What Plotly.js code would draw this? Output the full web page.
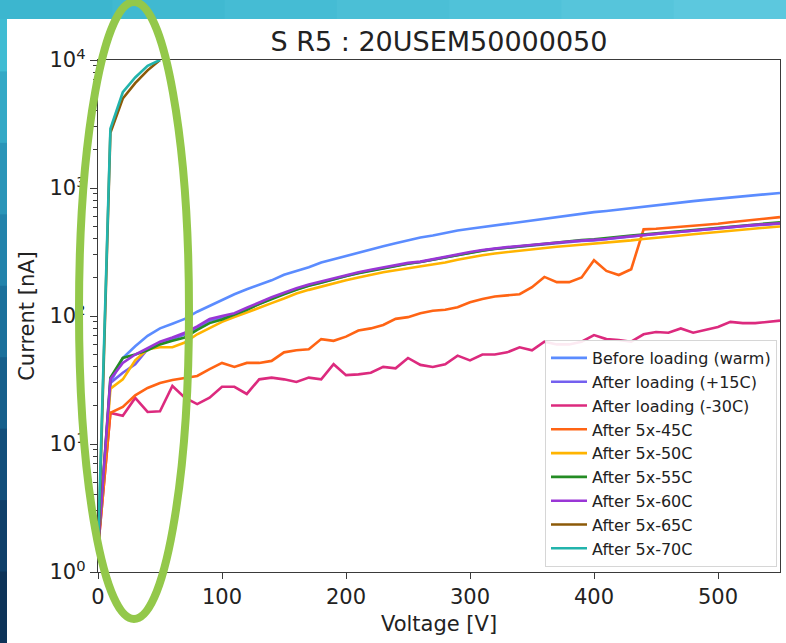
<!DOCTYPE html>
<html><head><meta charset="utf-8">
<script src="https://cdn.plot.ly/plotly-3.0.1.min.js"></script>
<style>html,body{margin:0;padding:0;background:#fff;}#chart{width:786px;height:643px;}</style>
</head><body><div id="chart"></div>
<script>
const voltage = [0,10,20,30,40,50,60,70,80,90,100,110,120,130,140,150,160,170,180,190,200,210,220,230,240,250,260,270,280,290,300,310,320,330,340,350,360,370,380,390,400,410,420,430,440,450,460,470,480,490,500,510,520,530,540,550];
const beforeWarm = [1.5,30,47,58,70,80,87,95,108,120,135,148,162,175,190,210,225,240,262,278,295,315,330,350,370,392,410,425,445,466,480,495,510,525,542,560,578,595,612,635,648,662,680,700,718,735,752,770,790,808,825,845,862,880,900,915];
const afterP15 = [1.5,30,36,42,55,61,66,72,81,92,97,103,113,125,137,149,162,173,183,195,205,217,227,237,247,257,264,275,287,302,313,325,335,342,349,357,365,372,379,385,389,397,407,417,427,437,445,452,462,472,482,492,502,512,519,527];
const afterM30 = [1.5,17.5,16.6,22.9,17.8,18,28.4,23,20.5,23,28,28,24.6,32,33,32,30.5,33,32,42,34.5,35,36,40,39,47,41.5,40,42,49,45,50,50,52,57,54,63,60,60,63,71,66,65,63,72,75,74,80,74,78,82,90,88,88,90,92];
const after45 = [1.5,17.5,19.5,24,27.4,30,31.6,33,34,38.5,43,40,43,43,44.6,52,54,55,66,64,69,77,80,85,95,98,105,110,112,117,128,136,142,145,148,168,202,184,184,200,273,225,209,232,475,480,488,495,503,512,525,540,552,565,578,592];
const after50 = [1.5,27,32,45,55,57,57,62,72,80,90,98,107,116,126,137,150,160,170,180,190,200,210,220,228,236,243,250,262,275,287,298,308,316,324,332,340,348,354,360,366,372,380,390,400,410,418,426,435,445,455,465,475,485,492,500];
const after55 = [1.5,33,47,50,54,60,64,68,78,88,94,102,112,124,136,148,160,172,182,194,205,216,226,236,246,256,264,275,288,300,312,324,334,342,350,360,368,376,384,392,398,405,415,425,434,443,452,460,470,480,490,500,510,520,530,540];
const after60 = [1.5,32,43,50,56,63,68,74,83,95,100,105,116,128,140,152,165,176,186,198,208,220,230,240,250,260,266,278,290,305,316,328,338,345,352,360,368,375,382,388,392,400,410,420,430,440,448,455,465,475,485,495,505,515,522,530];
const voltage65 = [0,10,20,30,40,50];
const after65 = [1.2,2700,5000,6600,8300,10000];
const voltage70 = [0,10,20,30,40,50];
const after70 = [1.5,2900,5600,7300,9000,10000];

const names = ['Before loading (warm)','After loading (+15C)','After loading (-30C)','After 5x-45C','After 5x-50C','After 5x-55C','After 5x-60C','After 5x-65C','After 5x-70C'];
const colors = ['#5b8cff','#7460ef','#dc2a7e','#ff6414','#ffb400','#248c24','#9a36d6','#8c5a08','#22b4ac'];
const xs = [voltage,voltage,voltage,voltage,voltage,voltage,voltage,voltage65,voltage70];
const ys = [beforeWarm,afterP15,afterM30,after45,after50,after55,after60,after65,after70];

const traces = names.map((n,i)=>({
  type:'scatter', mode:'lines', name:n, x:xs[i], y:ys[i],
  line:{color:colors[i], width:2.6}, legendgroup:'g'+i
}));

const PX = p => (p-98)/682;
const PY = p => (572-p)/512;
const shapes = [];
const leftCols = ['#3fbcd3','#34a9c6','#2a95b8','#2283ab','#1b709b','#165f8b','#124e7a','#0f3f69','#0d3358'];
const segH = 643/leftCols.length;
leftCols.forEach((c,i)=>{
  shapes.push({type:'rect',xref:'paper',yref:'paper',x0:PX(0),x1:PX(7),y0:PY(i*segH),y1:PY((i+1)*segH+1),fillcolor:c,line:{width:0},layer:'below'});
});
const topCols = ['#3cb6cf','#40b9d1','#45bcd4','#4bbfd6','#50c2d9','#56c5db','#5cc8de'];
const segW = 786/topCols.length;
topCols.forEach((c,i)=>{
  shapes.push({type:'rect',xref:'paper',yref:'paper',x0:PX(i*segW),x1:PX((i+1)*segW+1),y0:PY(0),y1:PY(19),fillcolor:c,line:{width:0},layer:'below'});
});
shapes.push({type:'circle',xref:'paper',yref:'paper',x0:PX(79),x1:PX(189),y0:PY(619),y1:PY(2),line:{color:'#93c84a',width:8},layer:'above'});

const minorVals = [];
[1,10,100,1000].forEach(b=>{for(let k=2;k<=9;k++) minorVals.push(b*k);});

const layout = {
  width:786, height:643,
  margin:{l:98, r:6, t:60, b:71},
  paper_bgcolor:'#ffffff', plot_bgcolor:'#ffffff',
  font:{family:'DejaVu Sans, sans-serif', color:'#222'},
  title:{text:'S R5 : 20USEM50000050', font:{size:27, color:'#222'}, x:0.5, xref:'paper', xanchor:'center', y:1-42/643, yanchor:'middle'},
  xaxis:{range:[0,550], showgrid:false, zeroline:false, showline:true, mirror:true, linecolor:'#3a3a3a', linewidth:1.2,
    ticks:'outside', ticklen:6, tickcolor:'#3a3a3a', tickvals:[0,100,200,300,400,500],
    tickfont:{size:21, color:'#222'},
    title:{text:'Voltage [V]', font:{size:21, color:'#222'}, standoff:7}},
  yaxis:{type:'log', range:[0,4], showgrid:false, zeroline:false, showline:true, mirror:true, linecolor:'#3a3a3a', linewidth:1.2,
    ticks:'outside', ticklen:7, tickcolor:'#3a3a3a',
    tickvals:[1,10,100,1000,10000], ticktext:['10<sup>0</sup>','10<sup>1</sup>','10<sup>2</sup>','10<sup>3</sup>','10<sup>4</sup>'],
    tickfont:{size:21, color:'#222'},
    minor:{tickvals:minorVals, ticks:'outside', ticklen:4, tickcolor:'#3a3a3a', showgrid:false},
    title:{text:'Current [nA]', font:{size:21, color:'#222'}, standoff:9}},
  legend:{x:PX(777), xanchor:'right', y:PY(567), yanchor:'bottom', bgcolor:'rgba(255,255,255,0.9)', bordercolor:'#d6d6d6', borderwidth:1,
    font:{size:16, color:'#222'}, traceorder:'grouped', tracegroupgap:0, itemwidth:36},
  shapes:shapes,
  showlegend:true
};
Plotly.newPlot('chart', traces, layout, {displayModeBar:false, staticPlot:true});
</script></body></html>
